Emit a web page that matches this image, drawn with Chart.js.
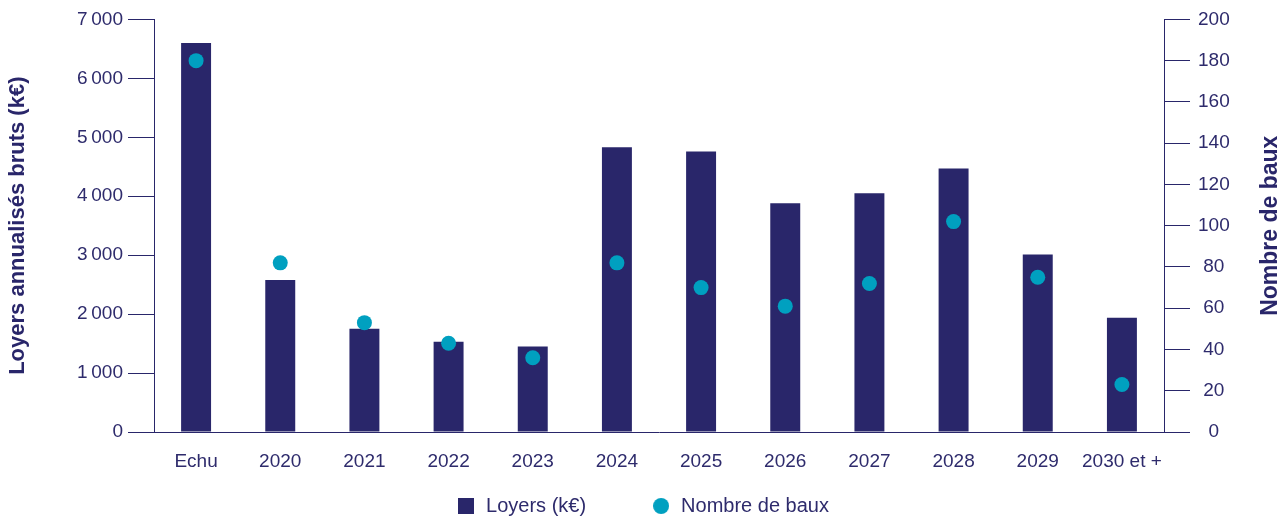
<!DOCTYPE html>
<html>
<head>
<meta charset="utf-8">
<script src="https://cdn.jsdelivr.net/npm/chart.js@4.4.1/dist/chart.umd.min.js"></script>
<style>
    html, body { margin: 0; padding: 0; background: #fff; }
    #wrap { width: 1285px; height: 520px; }
</style>
</head>
<body>
<div id="wrap"><canvas id="chart" width="1285" height="520"></canvas></div>
<script>
// donnees
const categories = ['Echu', '2020', '2021', '2022', '2023', '2024', '2025', '2026', '2027', '2028', '2029', '2030 et +'];
const loyers = [6600, 2580, 1750, 1530, 1450, 4830, 4760, 3880, 4050, 4470, 3010, 1940];
const nombreBaux = [180, 82, 53, 43, 36, 82, 70, 61, 72, 102, 75, 23];
const loyersTicks = [0, 1000, 2000, 3000, 4000, 5000, 6000, 7000];
const bauxTicks = [0, 20, 40, 60, 80, 100, 120, 140, 160, 180, 200];

const navy = '#29266a';
const teal = '#00a0c0';
const textColor = '#2e2b6c';
const fontFamily = "'Liberation Sans', Arial, sans-serif";

// petits symboles pour la legende
function makeSymbol(kind) {
    var c = document.createElement('canvas');
    c.width = 16;
    c.height = 16;
    var g = c.getContext('2d');
    if (kind === 'rect') {
        g.fillStyle = navy;
        g.fillRect(0, 0, 16, 16);
    } else {
        g.fillStyle = teal;
        g.beginPath();
        g.arc(8, 8, 8, 0, Math.PI * 2);
        g.fill();
    }
    return c;
}
const legendSymbols = [makeSymbol('rect'), makeSymbol('circle')];

function formatMilliers(v) {
    if (v >= 1000) {
        var s = String(v);
        return s.slice(0, s.length - 3) + '\u202f' + s.slice(s.length - 3);
    }
    return String(v);
}

// titre de l'axe de droite, lu de bas en haut
const rightTitle = {
    id: 'rightTitle',
    afterDraw: function (chart) {
        var sc = chart.scales.y1;
        var ctx = chart.ctx;
        ctx.save();
        ctx.translate(1271, (sc.top + sc.bottom) / 2);
        ctx.rotate(-Math.PI / 2);
        ctx.font = 'bold 23px ' + fontFamily;
        ctx.fillStyle = navy;
        ctx.textAlign = 'center';
        ctx.textBaseline = 'middle';
        ctx.fillText('Nombre de baux', 0, 0);
        ctx.restore();
    }
};

var ctx = document.getElementById('chart').getContext('2d');
var myChart = new Chart(ctx, {
    data: {
        labels: categories,
        datasets: [
            {
                type: 'bar',
                label: 'Loyers (k€)',
                data: loyers,
                backgroundColor: navy,
                borderWidth: 0,
                categoryPercentage: 1,
                barPercentage: 0.356,
                yAxisID: 'y',
                order: 1
            },
            {
                type: 'line',
                label: 'Nombre de baux',
                data: nombreBaux,
                showLine: false,
                pointRadius: 7.5,
                pointHoverRadius: 7.5,
                pointBackgroundColor: teal,
                pointBorderWidth: 0,
                borderColor: teal,
                backgroundColor: teal,
                yAxisID: 'y1',
                order: 0
            }
        ]
    },
    options: {
        responsive: false,
        animation: false,
        layout: {
            padding: { top: 9, left: 2, right: 2, bottom: -6 }
        },
        scales: {
            x: {
                afterFit: function (scale) {
                    scale.height = 49;
                },
                grid: { display: false, drawTicks: false },
                border: { display: true, color: navy, width: 1 },
                ticks: {
                    color: textColor,
                    font: { family: fontFamily, size: 19 },
                    padding: 18,
                    maxRotation: 0,
                    autoSkip: false
                }
            },
            y: {
                position: 'left',
                min: 0,
                max: 7000,
                afterBuildTicks: function (scale) {
                    scale.ticks = loyersTicks.map(v => ({ value: v }));
                },
                afterFit: function (scale) {
                    scale.width = 152;
                },
                grid: { drawOnChartArea: false, drawTicks: true, tickLength: 26, color: navy, lineWidth: 1 },
                border: { display: true, color: navy, width: 1 },
                ticks: {
                    color: textColor,
                    font: { family: fontFamily, size: 19 },
                    padding: 5,
                    callback: function (v) { return formatMilliers(v); }
                },
                title: {
                    display: true,
                    text: 'Loyers annualisés bruts (k€)',
                    color: navy,
                    font: { family: fontFamily, size: 22, weight: 'bold' },
                    padding: { top: 3, bottom: 3 }
                }
            },
            y1: {
                position: 'right',
                min: 0,
                max: 200,
                afterBuildTicks: function (scale) {
                    scale.ticks = bauxTicks.map(v => ({ value: v }));
                },
                afterFit: function (scale) {
                    scale.width = 1283 - 1164;
                },
                grid: { drawOnChartArea: false, drawTicks: true, tickLength: 26, color: navy, lineWidth: 1 },
                border: { display: true, color: navy, width: 1 },
                ticks: {
                    color: textColor,
                    font: { family: fontFamily, size: 19 },
                    padding: 8,
                    crossAlign: 'center'
                }
            }
        },
        plugins: {
            legend: {
                display: true,
                position: 'bottom',
                labels: {
                    usePointStyle: true,
                    color: textColor,
                    font: { family: fontFamily, size: 20 },
                    padding: 15,
                    generateLabels: function (chart) {
                        return chart.data.datasets.map(function (ds, i) {
                            // espaces en fin de texte pour ecarter les deux entrees
                            var txt = i === 0 ? ds.label + '         ' : ds.label;
                            return {
                                text: txt,
                                datasetIndex: i,
                                pointStyle: legendSymbols[i],
                                fillStyle: ds.backgroundColor,
                                strokeStyle: ds.backgroundColor,
                                lineWidth: 0,
                                fontColor: textColor,
                                hidden: false
                            };
                        });
                    }
                }
            },
            tooltip: { enabled: false }
        }
    },
    plugins: [rightTitle]
});
</script>
</body>
</html>
